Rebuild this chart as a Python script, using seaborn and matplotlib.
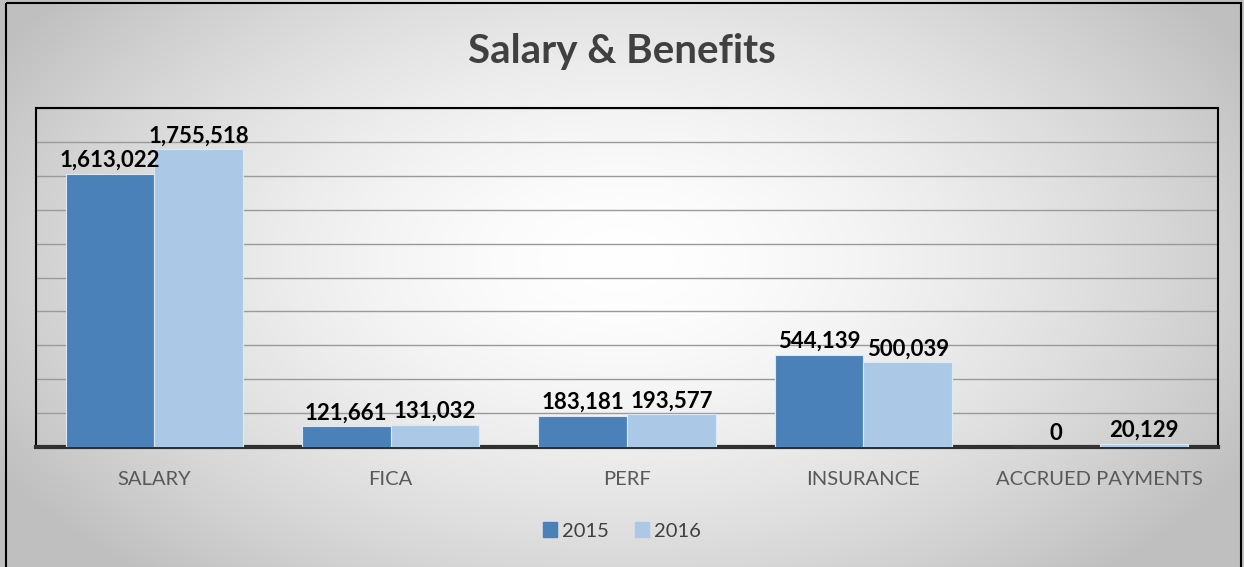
import numpy as np
import pandas as pd
import matplotlib.pyplot as plt
import seaborn as sns
from matplotlib.patches import Rectangle
from matplotlib.ticker import MultipleLocator

categories = ['SALARY', 'FICA', 'PERF', 'INSURANCE', 'ACCRUED PAYMENTS']
years = ['2015', '2016']
values_2015 = [1613022, 121661, 183181, 544139, 0]
values_2016 = [1755518, 131032, 193577, 500039, 20129]

df = pd.DataFrame({
    'category': categories * 2,
    'year': ['2015'] * len(categories) + ['2016'] * len(categories),
    'value': values_2015 + values_2016,
})

sns.set_theme(style='white')
plt.rcParams['font.family'] = ['Lato', 'DejaVu Sans']

W, H = 1244, 567
fig = plt.figure(figsize=(W / 100, H / 100), dpi=100)

# radial gradient background
bg = fig.add_axes([0, 0, 1, 1], zorder=-10)
yy, xx = np.mgrid[0:H, 0:W]
r = np.sqrt(((xx - 620) / 720.0) ** 2 + ((yy - 260) / 420.0) ** 2)
shade = 1.0 - 0.25 * np.clip(r, 0, 1) ** 1.6
bg.imshow(np.dstack([shade] * 3), extent=[0, W, H, 0], aspect='auto')
bg.set_xlim(0, W)
bg.set_ylim(H, 0)
bg.axis('off')
bg.add_patch(Rectangle((6, 3), 1235, 600, fill=False, edgecolor='black', linewidth=1.5))

ax = fig.add_axes([36 / W, 1 - 447 / H, (1218 - 36) / W, (447 - 108) / H])
ax.patch.set_alpha(0)

palette = {'2015': '#4a81b8', '2016': '#abc9e6'}
sns.barplot(data=df, x='category', y='value', hue='year', hue_order=years,
            palette=palette, width=0.75, saturation=1, ax=ax,
            edgecolor='#dce8f4', linewidth=0.8, zorder=3)

ax.set_ylim(0, 2000000)
ax.yaxis.set_major_locator(MultipleLocator(200000))
ax.grid(axis='y', color='#9a9a9a', linewidth=1, zorder=0)
ax.set_yticklabels([])
ax.tick_params(axis='y', length=0)
ax.tick_params(axis='x', length=0, pad=17, labelsize=14.5, labelcolor='#595959')
ax.set_xlabel('')
ax.set_ylabel('')

for side in ['top', 'left', 'right']:
    ax.spines[side].set_color('black')
    ax.spines[side].set_linewidth(1.5)
ax.spines['bottom'].set_color('#303030')
ax.spines['bottom'].set_linewidth(3)

for cont in ax.containers:
    ax.bar_label(cont, labels=[f'{v:,.0f}' for v in cont.datavalues],
                 padding=2, fontsize=16, fontweight='bold', color='black')

ax.legend_.remove()
handles = [Rectangle((0, 0), 1, 1, color=palette[y]) for y in years]
fig.legend(handles, years, loc='center', bbox_to_anchor=(0.5, 1 - 531 / H), ncol=2,
           frameon=False, fontsize=14.5, handlelength=0.7, handleheight=0.7,
           handletextpad=0.25, columnspacing=1.3, labelcolor='#404040')

fig.text(0.5, 1 - 52 / H, 'Salary & Benefits', ha='center', va='center',
         fontsize=29, fontweight='bold', color='#404040')

fig.savefig('out.png', dpi=100)
